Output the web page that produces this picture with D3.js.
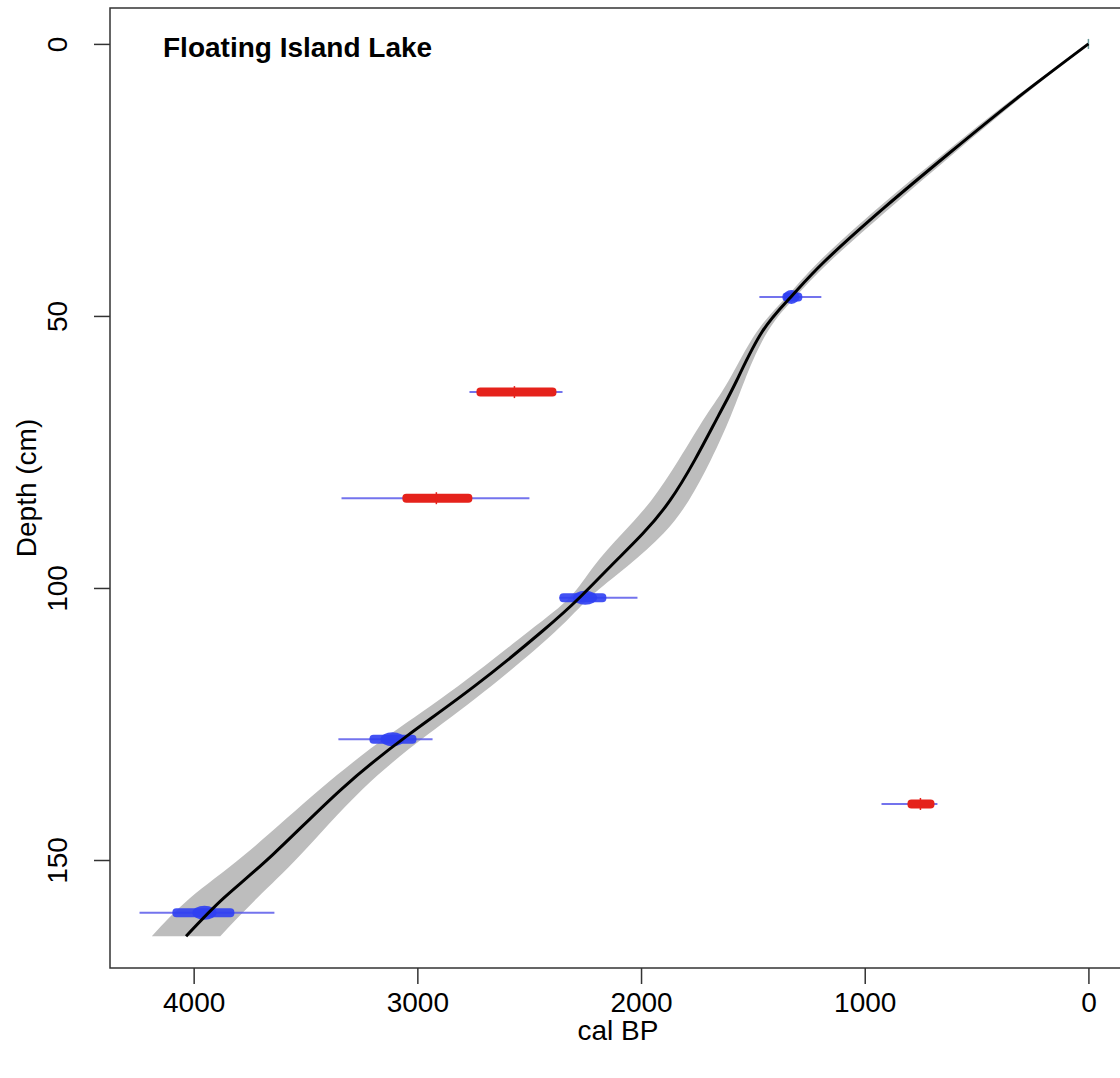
<!DOCTYPE html>
<html>
<head>
<meta charset="utf-8">
<script src="https://cdn.jsdelivr.net/npm/d3@7"></script>
<style>
html,body{margin:0;padding:0;background:#fff;}
svg{display:block;}
text{font-family:"Liberation Sans",Arial,sans-serif;}
</style>
</head>
<body>
<svg id="chart" width="1120" height="1078"></svg>
<script>
// ---- age-depth model (depth cm, cal BP) ----
const modelDepth = [0, 10, 20, 30, 40, 46.5, 53, 62, 68.5, 76.5, 84, 90, 96, 101.7, 108, 118, 127, 137, 149, 157, 164];
const modelMean  = [0, 320, 620, 910, 1180, 1330, 1460, 1574, 1656, 1760, 1872, 1992, 2136, 2273, 2443, 2743, 3040, 3340, 3646, 3866, 4034];
const modelMin   = [0, 305, 598, 883, 1156, 1310, 1436, 1538, 1600, 1688, 1788, 1900, 2061, 2228, 2383, 2669, 2955, 3245, 3521, 3716, 3881];
const modelMax   = [0, 335, 642, 937, 1204, 1350, 1484, 1610, 1712, 1832, 1956, 2084, 2211, 2318, 2503, 2817, 3125, 3435, 3771, 4016, 4187];

// ---- dated levels ----
const dateDepth   = [0, 46.5, 64, 83.5, 101.8, 127.8, 139.7, 159.7];
const dateAge     = [0, 1328, 2566, 2915, 2250, 3111, 751, 3952];
const dateLo      = [0, 1194, 2351, 2499, 2016, 2932, 675, 3639];   // 95% range, young end
const dateHi      = [0, 1471, 2767, 3339, 2365, 3353, 925, 4242];   // 95% range, old end
const dateCoreLo  = [0, 1279, 2378, 2754, 2155, 3004, 688, 3818];
const dateCoreHi  = [0, 1368, 2736, 3067, 2365, 3214, 809, 4095];
const dateKind    = ["surface", "in", "out", "out", "in", "in", "out", "in"];

const xTicks = [4000, 3000, 2000, 1000, 0];
const yTicks = [0, 50, 100, 150];
const title = "Floating Island Lake";
const xLabel = "cal BP";
const yLabel = "Depth (cm)";

const svg = d3.select("#chart");
const L = 110, R = 1126, T = 8, B = 968;
const x = d3.scaleLinear().domain([4374, -168]).range([L, R]);
const y = d3.scaleLinear().domain([-6.6, 169.85]).range([T, B]);

const model = modelDepth.map((d, i) => ({d, m: modelMean[i], lo: modelMin[i], hi: modelMax[i]}));
const smooth = d3.curveNatural;

// band
svg.append("path")
  .datum(model)
  .attr("d", d3.area()
    .curve(smooth)
    .y(p => y(p.d))
    .x0(p => x(p.lo))
    .x1(p => x(p.hi)))
  .attr("fill", "#bdbdbd");

// dates
const dates = dateDepth.map((d, i) => ({d, a: dateAge[i], lo: dateLo[i], hi: dateHi[i], clo: dateCoreLo[i], chi: dateCoreHi[i], k: dateKind[i]}));
const gD = svg.append("g");
dates.forEach(p => {
  const yy = y(p.d);
  if (p.k === "surface") {
    gD.append("line").attr("x1", x(p.a)).attr("x2", x(p.a))
      .attr("y1", yy - 5).attr("y2", yy + 5)
      .attr("stroke", "#6a9a9a").attr("stroke-width", 1.5);
    return;
  }
  gD.append("line")
    .attr("x1", x(p.hi)).attr("x2", x(p.lo))
    .attr("y1", yy).attr("y2", yy)
    .attr("stroke", "#5b5bea").attr("stroke-opacity", 0.85).attr("stroke-width", 2);
  const col = p.k === "out" ? "#e5221b" : "#2f3ff2";
  const h = 9;
  gD.append("rect")
    .attr("x", x(p.chi)).attr("width", x(p.clo) - x(p.chi))
    .attr("y", yy - h / 2).attr("height", h)
    .attr("rx", 4).attr("ry", 4)
    .attr("fill", col).attr("fill-opacity", p.k === "out" ? 1 : 0.9);
  if (p.k === "in") {
    gD.append("ellipse")
      .attr("cx", x(p.a)).attr("cy", yy)
      .attr("rx", Math.min(12, (x(p.clo) - x(p.chi)) / 2.5)).attr("ry", 7)
      .attr("fill", "#2f3ff2").attr("fill-opacity", 0.9);
  } else {
    gD.append("line").attr("x1", x(p.a)).attr("x2", x(p.a))
      .attr("y1", yy - 6).attr("y2", yy + 6)
      .attr("stroke", "#e5221b").attr("stroke-width", 1.5);
  }
});

// mean line
svg.append("path")
  .datum(model)
  .attr("d", d3.line().curve(smooth).y(p => y(p.d)).x(p => x(p.m)))
  .attr("fill", "none").attr("stroke", "#000").attr("stroke-width", 3);

// box
svg.append("rect").attr("x", L).attr("y", T).attr("width", R - L).attr("height", B - T)
  .attr("fill", "none").attr("stroke", "#333").attr("stroke-width", 1.5);

// axes
const ax = svg.append("g").attr("transform", `translate(0,${B})`)
  .call(d3.axisBottom(x).tickValues(xTicks).tickSize(16).tickPadding(10).tickFormat(d3.format("d")));
ax.select(".domain").remove();
ax.selectAll("line").attr("stroke", "#333").attr("stroke-width", 1.5);
ax.selectAll("text").attr("font-size", 28).attr("fill", "#000").attr("dy", "0.71em").attr("y", 24);

const ay = svg.append("g").attr("transform", `translate(${L},0)`)
  .call(d3.axisLeft(y).tickValues(yTicks).tickSize(16).tickFormat(d3.format("d")));
ay.select(".domain").remove();
ay.selectAll("line").attr("stroke", "#333").attr("stroke-width", 1.5);
ay.selectAll("text").attr("font-size", 28).attr("fill", "#000")
  .attr("text-anchor", "middle").attr("x", null)
  .attr("transform", "translate(-53,0) rotate(-90)").attr("y", 0).attr("dy", "0.36em");

svg.append("text").attr("x", (L + R) / 2).attr("y", 1040).attr("text-anchor", "middle")
  .attr("font-size", 28).text(xLabel);
svg.append("text").attr("transform", `translate(36,${(T + B) / 2}) rotate(-90)`)
  .attr("text-anchor", "middle").attr("font-size", 28).text(yLabel);

svg.append("text").attr("x", 163).attr("y", 57).attr("font-size", 28).attr("font-weight", "bold")
  .text(title);
</script>
</body>
</html>
